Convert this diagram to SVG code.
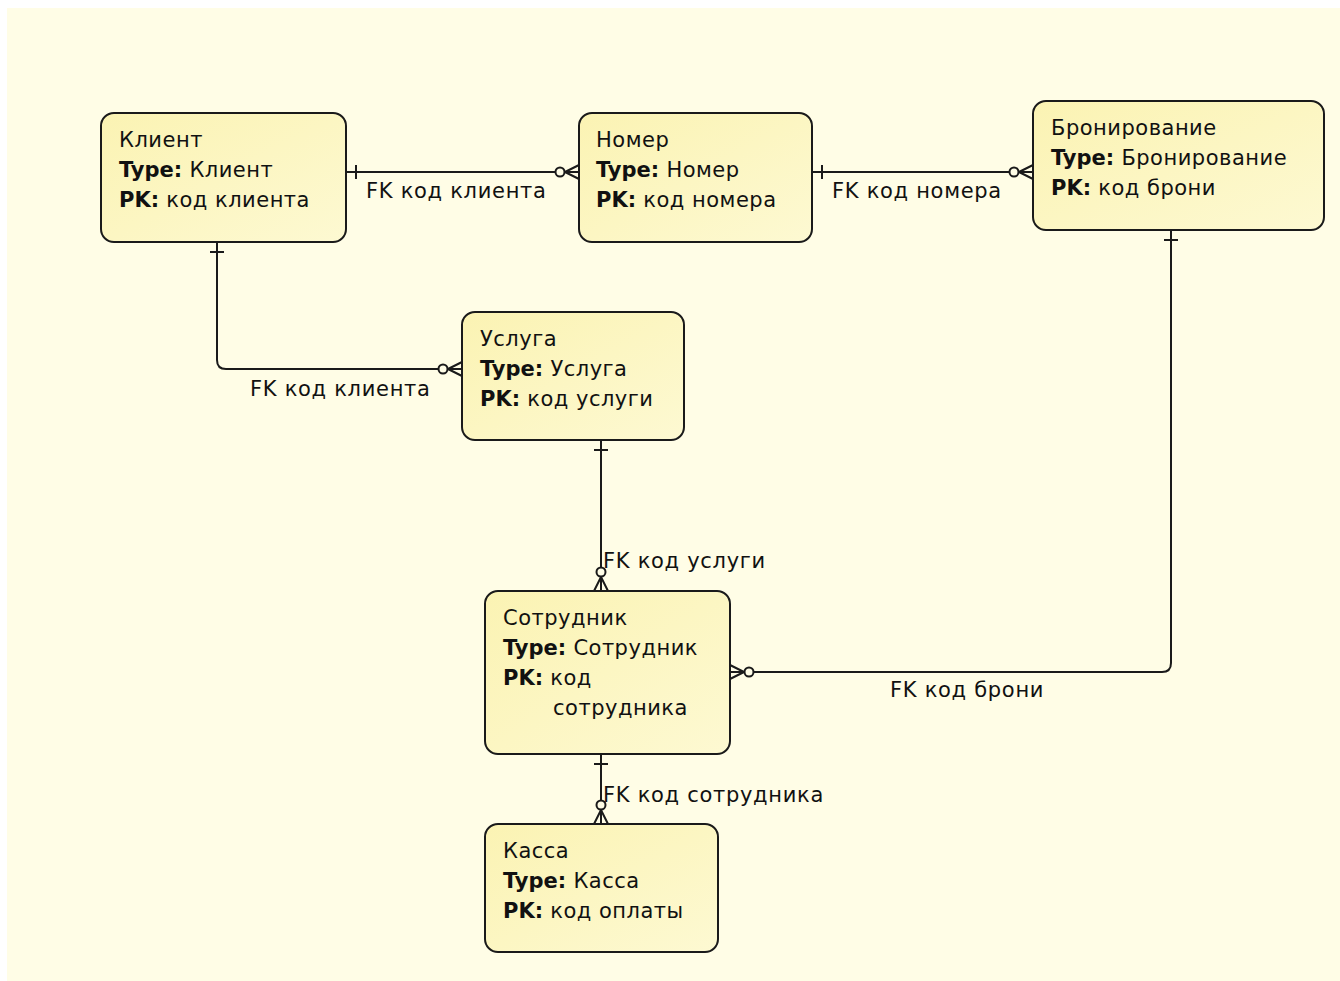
<svg xmlns="http://www.w3.org/2000/svg" width="1340" height="981" viewBox="0 0 1340 981">
<style>
  .bg { fill: #fffde6; }
  .ent { fill: url(#entfill); stroke: #1a1a1a; stroke-width: 2; }
  text { font-family: "DejaVu Sans", "Liberation Sans", sans-serif; font-size: 21px; fill: #111; letter-spacing: 0.5px; }
  .b { font-weight: bold; letter-spacing: 0; }
  .conn { fill: none; stroke: #1a1a1a; stroke-width: 2; marker-start: url(#one); marker-end: url(#zeroMany); }
  .lbl { font-size: 21px; letter-spacing: 0.7px; }
</style>
<defs>
  <linearGradient id="entfill" x1="0" y1="0" x2="1" y2="1">
    <stop offset="0" stop-color="#fbf3b3"/>
    <stop offset="1" stop-color="#fdf9d2"/>
  </linearGradient>
  <marker id="one" markerUnits="userSpaceOnUse" viewBox="-2 -9 16 18" refX="0" refY="0" markerWidth="16" markerHeight="18" orient="auto" overflow="visible">
    <path d="M10,-7 V7" stroke="#1a1a1a" stroke-width="2" fill="none"/>
  </marker>
  <marker id="zeroMany" markerUnits="userSpaceOnUse" viewBox="-26 -9 28 18" refX="0" refY="0" markerWidth="28" markerHeight="18" orient="auto" overflow="visible">
    <path d="M-14,0 L0,-7 M-14,0 L0,0 M-14,0 L0,7" stroke="#1a1a1a" stroke-width="2" fill="none"/>
    <circle cx="-19" cy="0" r="4.5" fill="#fffde6" stroke="#1a1a1a" stroke-width="2"/>
  </marker>
</defs>
<rect x="0" y="0" width="1340" height="981" fill="#ffffff"/>
<rect class="bg" x="7" y="8" width="1333" height="973"/>

<g id="connectors">
  <path class="conn" d="M346,172 H579"/>
  <path class="conn" d="M812,172 H1033"/>
  <path class="conn" d="M217,242 V360 Q217,369 226,369 H462"/>
  <path class="conn" d="M601,440 V591"/>
  <path class="conn" d="M1171,230 V663 Q1171,672 1162,672 H730"/>
  <path class="conn" d="M601,754 V824"/>
  <text class="lbl" x="366" y="198">FK код клиента</text>
  <text class="lbl" x="832" y="198">FK код номера</text>
  <text class="lbl" x="250" y="396">FK код клиента</text>
  <text class="lbl" x="603" y="568">FK код услуги</text>
  <text class="lbl" x="890" y="697">FK код брони</text>
  <text class="lbl" x="603" y="802">FK код сотрудника</text>
</g>

<g id="node-klient">
  <rect class="ent" x="101" y="113" width="245" height="129" rx="13"/>
  <text x="119" y="147">Клиент</text>
  <text x="119" y="177"><tspan class="b">Type:</tspan> Клиент</text>
  <text x="119" y="207"><tspan class="b">PK:</tspan> код клиента</text>
</g>
<g id="node-nomer">
  <rect class="ent" x="579" y="113" width="233" height="129" rx="13"/>
  <text x="596" y="147">Номер</text>
  <text x="596" y="177"><tspan class="b">Type:</tspan> Номер</text>
  <text x="596" y="207"><tspan class="b">PK:</tspan> код номера</text>
</g>
<g id="node-bron">
  <rect class="ent" x="1033" y="101" width="291" height="129" rx="13"/>
  <text x="1051" y="135">Бронирование</text>
  <text x="1051" y="165"><tspan class="b">Type:</tspan> Бронирование</text>
  <text x="1051" y="195"><tspan class="b">PK:</tspan> код брони</text>
</g>
<g id="node-usluga">
  <rect class="ent" x="462" y="312" width="222" height="128" rx="13"/>
  <text x="480" y="346">Услуга</text>
  <text x="480" y="376"><tspan class="b">Type:</tspan> Услуга</text>
  <text x="480" y="406"><tspan class="b">PK:</tspan> код услуги</text>
</g>
<g id="node-sotrudnik">
  <rect class="ent" x="485" y="591" width="245" height="163" rx="13"/>
  <text x="503" y="625">Сотрудник</text>
  <text x="503" y="655"><tspan class="b">Type:</tspan> Сотрудник</text>
  <text x="503" y="685"><tspan class="b">PK:</tspan> код</text>
  <text x="553" y="715">сотрудника</text>
</g>
<g id="node-kassa">
  <rect class="ent" x="485" y="824" width="233" height="128" rx="13"/>
  <text x="503" y="858">Касса</text>
  <text x="503" y="888"><tspan class="b">Type:</tspan> Касса</text>
  <text x="503" y="918"><tspan class="b">PK:</tspan> код оплаты</text>
</g>
</svg>
